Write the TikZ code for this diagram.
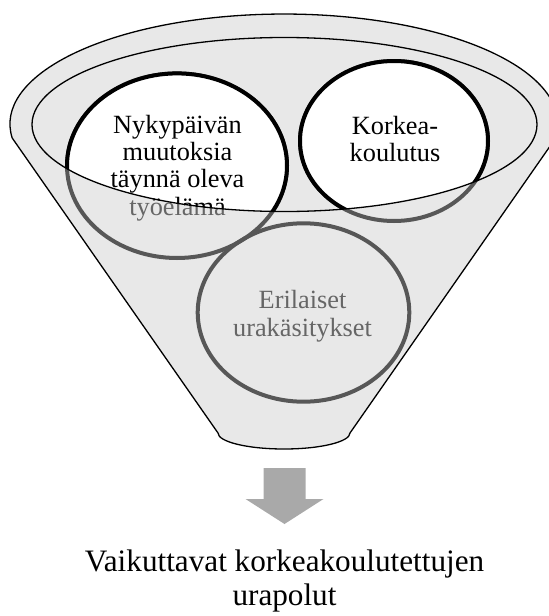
\documentclass[tikz,border=0pt]{standalone}
\usepackage{fontspec}
\setmainfont{Liberation Serif}
\definecolor{funnelgray}{HTML}{E8E8E8}
\definecolor{ringgray}{HTML}{575757}
\definecolor{textgray}{HTML}{666666}
\definecolor{arrowgray}{HTML}{A9A9A9}
\tikzset{
  funnelbody/.style={fill=funnelgray, draw=black, line width=1.3pt, line join=round},
  ringout/.style={draw=ringgray, line width=4pt},
  ringin/.style={draw=black, fill=white, line width=4pt},
  circletext/.style={align=center, inner sep=0pt, font=\fontsize{26.3}{27.2}\selectfont},
  titletext/.style={align=center, inner sep=0pt, font=\fontsize{31.2}{33.5}\selectfont},
}
\begin{document}
\begin{tikzpicture}[x=1pt,y=-1pt]
\useasboundingbox (0,0) rectangle (549,616);
% funnel body
\path[funnelbody] (218,433) -- (12.2,138)
  arc[start angle=172.7, end angle=367.3, x radius=274, y radius=110]
  -- (350,433)
  arc[start angle=0, end angle=180, x radius=66, y radius=16] -- cycle;
% inner rim fill
\fill[funnelgray] (284.5,124.5) ellipse[x radius=252.5, y radius=87];
% circle centres
\coordinate (cl) at (177,165.7);
\coordinate (cr) at (394,141);
\coordinate (cb) at (303.5,312.5);
% circles seen through the funnel
\draw[ringout] (cl) ellipse[x radius=110, y radius=92.3];
\draw[ringout] (cr) ellipse[x radius=94, y radius=80];
\draw[ringout] (cb) ellipse[x radius=105.8, y radius=89.2];
\node[circletext, text=textgray] (tl) at (177.5,168) {Nykypäivän\\muutoksia\\täynnä oleva\\työelämä};
\node[circletext, text=textgray] (tr) at (395,139.3) {Korkea-\\koulutus};
\node[circletext, text=textgray] (tb) at (302.5,316.2) {Erilaiset\\urakäsitykset};
% parts inside the rim
\begin{scope}
  \clip (284.5,124.5) ellipse[x radius=252.5, y radius=87];
  \draw[ringin] (cl) ellipse[x radius=110, y radius=92.3];
  \draw[ringin] (cr) ellipse[x radius=94, y radius=80];
  \node[circletext, text=black] (tli) at (177.5,168) {Nykypäivän\\muutoksia\\täynnä oleva\\työelämä};
  \node[circletext, text=black] (tri) at (395,139.3) {Korkea-\\koulutus};
\end{scope}
% rim outline on top
\draw[black, line width=1.3pt] (284.5,124.5) ellipse[x radius=252.5, y radius=87];
% arrow
\fill[arrowgray] (263.5,468) -- (305.5,468) -- (305.5,499) -- (323.5,499)
  -- (284.5,524) -- (245.5,499) -- (263.5,499) -- cycle;
% result text
\node[titletext] (res) at (284.5,581) {Vaikuttavat korkeakoulutettujen\\urapolut};
\end{tikzpicture}
\end{document}
